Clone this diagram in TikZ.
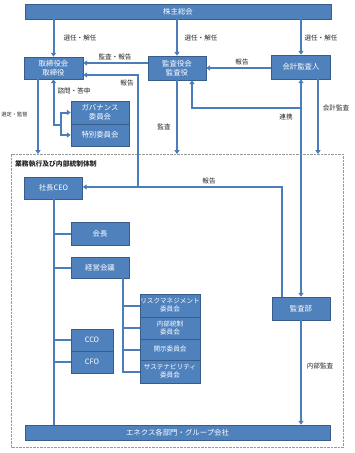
\documentclass[tikz,border=0pt]{standalone}
\usepackage{fontspec}
\newfontfamily\jp{Noto Sans CJK JP}
\usetikzlibrary{arrows.meta}
\definecolor{bfill}{HTML}{4F81BD}
\definecolor{bdraw}{HTML}{385D8A}
\definecolor{lcol}{HTML}{4A7EBB}
\definecolor{tcol}{HTML}{262626}
\begin{document}
\begin{tikzpicture}[x=1pt,y=-1pt,
  box/.style={draw=bdraw,line width=0.6pt,fill=bfill,text=white,inner sep=0pt,align=center,
    font=\jp\fontsize{7.4}{9}\selectfont},
  sbox/.style={box,font=\jp\fontsize{6.6}{8}\selectfont},
  conn/.style={draw=lcol,line width=2pt},
  arr/.style={conn,-{Triangle[width=5pt,length=3.8pt]}},
  darr/.style={conn,{Triangle[width=5pt,length=3.8pt]}-{Triangle[width=5pt,length=3.8pt]}},
  lab/.style={text=tcol,inner sep=0pt,font=\jp\fontsize{6.6}{7.5}\selectfont}]
\useasboundingbox (0,0) rectangle (355,453);
\fill[white] (0,0) rectangle (355,453);
% dashed frame
\draw[gray!80,line width=0.8pt,dash pattern=on 2.5pt off 1pt] (11,154) rectangle (343,447);
\node[lab,anchor=west,font=\jp\bfseries\fontsize{6.8}{8}\selectfont] (title) at (15,164) {業務執行及び内部統制体制};
% boxes
\node[box,minimum width=306pt,minimum height=15pt] (sh) at (178,11.5) {株主総会};
\node[box,minimum width=59pt,minimum height=22pt] (tb) at (53.5,68) {取締役会\\取締役};
\node[box,minimum width=58pt,minimum height=24pt] (ka) at (177,68) {監査役会\\監査役};
\node[box,minimum width=59pt,minimum height=24pt] (kk) at (301,67) {会計監査人};
\node[box,minimum width=58pt,minimum height=23pt] (gov) at (100,112.5) {ガバナンス\\委員会};
\node[box,minimum width=58pt,minimum height=22pt] (tok) at (100,135) {特別委員会};
\node[box,minimum width=58pt,minimum height=22pt] (ceo) at (53.5,188) {社長CEO};
\node[box,minimum width=58pt,minimum height=23pt] (kai) at (100,233.5) {会長};
\node[box,minimum width=58pt,minimum height=21pt] (kei) at (100,267.5) {経営会議};
\node[box,minimum width=42pt,minimum height=22pt] (cco) at (92,340) {CCO};
\node[box,minimum width=42pt,minimum height=22pt] (cfo) at (92,362) {CFO};
\node[sbox,minimum width=60pt,minimum height=23pt] (risk) at (170,305.5) {リスクマネジメント\\委員会};
\node[sbox,minimum width=60pt,minimum height=22pt] (nai) at (170,328) {内部統制\\委員会};
\node[sbox,minimum width=60pt,minimum height=21pt] (kaiji) at (170,349.5) {開示委員会};
\node[sbox,minimum width=60pt,minimum height=23pt] (sus) at (170,371.5) {サステナビリティ\\委員会};
\node[box,minimum width=58pt,minimum height=23pt] (bu) at (301,308.5) {監査部};
\node[box,minimum width=305pt,minimum height=15pt] (en) at (177.5,432.5) {エネクス各部門・グループ会社};
% frame top coordinates
\coordinate (f1) at (38,154);
\coordinate (f2) at (177,154);
\coordinate (f3) at (318,154);
% shareholders -> boards
\draw[arr] (tb.north |- sh.south) -- (tb.north);
\draw[arr] (ka.north |- sh.south) -- (ka.north);
\draw[arr] (kk.north |- sh.south) -- (kk.north);
\node[lab] at (80,38) {選任・解任};
\node[lab] at (201,38) {選任・解任};
\node[lab] at (321,38) {選任・解任};
% 監査・報告
\draw[arr] (ka.west |- 0,63) -- (tb.east |- 0,63);
\node[lab] at (115,57) {監査・報告};
% 報告 kk -> ka
\draw[arr] (kk.west |- 0,68) -- (ka.east |- 0,68);
\node[lab] at (242,62) {報告};
% 監査部 reporting
\draw[arr] (282,0 |- bu.north) -- (282,187) -- (ceo.east |- 0,187);
\draw[arr] (138,187) -- (138,75) -- (tb.east |- 0,75);
\node[lab] at (127,83) {報告};
\node[lab] at (209,181) {報告};
% 連携
\draw[darr] (kk.south) -- (bu.north);
\draw[arr] (kk.south |- 0,108) -- (192,108) -- (192,0 |- ka.south);
\node[lab] at (286,117) {連携};
% 会計監査
\draw[arr] (318,0 |- kk.south) -- (f3);
\node[lab] at (336,108) {会計監査};
% 監査
\draw[arr] (ka.south) -- (f2);
\node[lab] at (164,127) {監査};
% 選定・監督
\draw[arr] (38,0 |- tb.south) -- (f1);
\node[lab,font=\jp\fontsize{5.2}{6}\selectfont] at (14.5,115) {選定・監督};
% 諮問・答申
\draw[arr] (61,125) -- (tb.south |- 0,125) -- (tb.south);
\draw[arr] (61,125) -- (61,0 |- gov.west) -- (gov.west);
\draw[arr] (61,125) -- (61,0 |- tok.west) -- (tok.west);
\node[lab] at (74,91) {諮問・答申};
% CEO tree
\draw[conn] (ceo.south) -- (ceo.south |- en.north);
\draw[conn] (ceo.south |- kai.west) -- (kai.west);
\draw[conn] (ceo.south |- kei.west) -- (kei.west);
\draw[conn] (ceo.south |- cco.west) -- (cco.west);
\draw[conn] (ceo.south |- cfo.west) -- (cfo.west);
% 経営会議 tree
\coordinate (kt) at ([xshift=-6pt]kei.south east);
\draw[conn] (kt) -- (kt |- sus.west) -- (sus.west);
\draw[conn] (kt |- risk.west) -- (risk.west);
\draw[conn] (kt |- nai.west) -- (nai.west);
\draw[conn] (kt |- kaiji.west) -- (kaiji.west);
% 内部監査
\draw[arr] (bu.south) -- (bu.south |- en.north);
\node[lab] at (320,366) {内部監査};
\end{tikzpicture}
\end{document}
